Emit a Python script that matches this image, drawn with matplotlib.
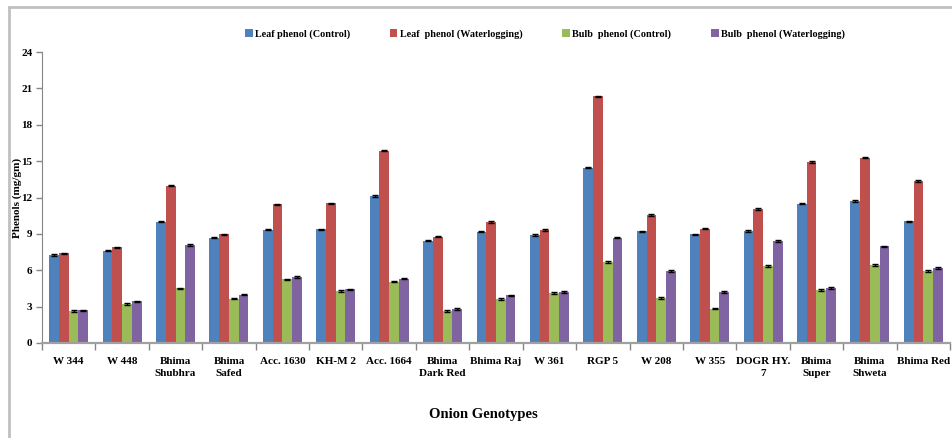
import numpy as np
import matplotlib
matplotlib.use("Agg")
import matplotlib.pyplot as plt
from matplotlib.lines import Line2D

genotypes = ["W 344", "W 448", "Bhima\nShubhra", "Bhima\nSafed", "Acc. 1630", "KH-M 2",
             "Acc. 1664", "Bhima\nDark Red", "Bhima Raj", "W 361", "RGP 5", "W 208",
             "W 355", "DOGR HY.\n7", "Bhima\nSuper", "Bhima\nShweta", "Bhima Red"]

leaf_control = [7.25, 7.6, 10.0, 8.7, 9.35, 9.38, 12.12, 8.45, 9.18, 8.9, 14.45,
                9.22, 8.97, 9.24, 11.48, 11.72, 10.05]
leaf_water = [7.4, 7.88, 12.98, 8.96, 11.43, 11.52, 15.86, 8.78, 9.97, 9.32, 20.35,
              10.56, 9.44, 11.07, 14.93, 15.28, 13.36]
bulb_control = [2.62, 3.2, 4.5, 3.67, 5.24, 4.26, 5.07, 2.66, 3.62, 4.14, 6.68,
                3.74, 2.84, 6.34, 4.35, 6.42, 5.95]
bulb_water = [2.7, 3.43, 8.08, 4.0, 5.45, 4.43, 5.3, 2.8, 3.92, 4.2, 8.68,
              5.94, 4.2, 8.4, 4.52, 7.98, 6.2]

series_names = ["Leaf phenol (Control)", "Leaf  phenol (Waterlogging)",
                "Bulb  phenol (Control)", "Bulb  phenol (Waterlogging)"]
series_err = [0.05, 0.06, 0.07, 0.06]
colors = ["#4F81BD", "#C0504D", "#9BBB59", "#8064A2"]

plt.rcParams["font.family"] = ["Liberation Serif", "DejaVu Serif"]
plt.rcParams["font.weight"] = "bold"

fig = plt.figure(figsize=(9.52, 4.38), dpi=100)
ax = fig.add_axes([42 / 952, 1 - 343 / 438, 908 / 952, 291 / 438])

x = np.arange(len(genotypes))
w = 0.182
data = [leaf_control, leaf_water, bulb_control, bulb_water]
for i, vals in enumerate(data):
    ax.bar(x + (i - 1.5) * w, vals, w, color=colors[i], label=series_names[i],
           yerr=series_err[i], error_kw=dict(ecolor="black", elinewidth=1.0,
                                             capsize=2.2, capthick=1.0))

ax.set_xlim(-0.5, len(genotypes) - 0.5)
ax.set_ylim(0, 24)
ax.set_yticks(np.arange(0, 25, 3))
ax.set_xticks(x)
ax.set_xticklabels(genotypes, fontsize=8, fontweight="bold", linespacing=1.45)
ax.set_xticks(np.arange(-0.5, len(genotypes)), minor=True)
ax.tick_params(axis="x", which="major", length=0, pad=10)
ax.tick_params(axis="x", which="minor", length=5, color="#868686", width=1)
ax.tick_params(axis="y", length=4, color="#868686", width=1, labelsize=8, pad=3)
for lab in ax.get_yticklabels():
    lab.set_fontweight("bold")

for s in ["top", "right"]:
    ax.spines[s].set_visible(False)
ax.spines["left"].set_color("#868686")
ax.spines["bottom"].set_color("#a0a0a0")
ax.spines["bottom"].set_linewidth(1.6)

ax.set_ylabel("Phenols (mg/gm)", fontsize=8, fontweight="bold", va="center")
ax.yaxis.set_label_coords(-25 / 908, 0.5)
ax.set_xlabel("Onion Genotypes", fontsize=10.5, fontweight="bold")
ax.xaxis.set_label_coords(0.486, -65 / 291)

fig.legend(loc="center", bbox_to_anchor=(545 / 952, 1 - 34 / 438), ncol=4,
           frameon=False, handlelength=0.75, handleheight=0.75,
           handletextpad=0.25, columnspacing=3.9, prop=dict(weight="bold", size=7.3))

# outer chart frame (top and left edges)
fig.add_artist(Line2D([9 / 952, 9 / 952], [0, 1 - 7 / 438], color="#c0c0c0", lw=2))
fig.add_artist(Line2D([9 / 952, 1], [1 - 7 / 438, 1 - 7 / 438], color="#c0c0c0", lw=2))

fig.savefig("out.png", dpi=100)
